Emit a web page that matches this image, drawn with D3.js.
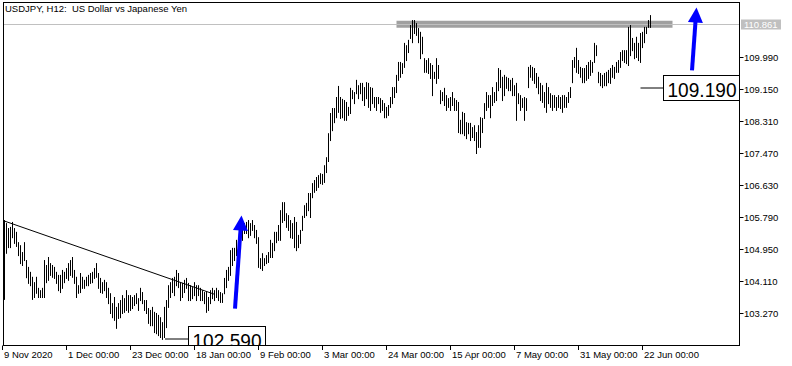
<!DOCTYPE html>
<html><head><meta charset="utf-8">
<script src="https://cdn.jsdelivr.net/npm/d3@7"></script>
<style>
body{margin:0;background:#fff}
svg{display:block}
text{font-family:"Liberation Sans",Arial,sans-serif;white-space:pre}
</style>
</head><body>
<svg id="c" width="792" height="366"></svg>
<script>
const title = "USDJPY, H12:  US Dollar vs Japanese Yen";
const highs = [
105.71,105.63,105.50,105.53,105.66,105.50,105.40,105.13,105.05,104.87,
105.13,104.66,104.48,104.35,104.22,104.08,104.22,103.93,103.87,103.93,
104.66,104.53,104.74,104.58,104.53,104.48,104.35,104.27,104.27,104.40,
104.35,104.45,104.58,104.66,104.74,104.40,104.22,104.00,104.32,104.22,
104.14,104.22,104.27,104.32,104.35,104.45,104.58,104.32,104.19,104.08,
104.14,104.08,103.93,103.79,103.53,103.69,103.43,103.53,103.61,103.74,
103.66,103.87,103.74,
103.74,103.69,103.74,103.79,103.66,103.93,103.82,
103.61,103.61,103.40,103.35,103.43,103.30,103.27,103.22,103.16,103.03,
103.43,103.61,104.00,104.08,104.19,104.22,104.40,104.32,104.08,104.06,
104.14,104.19,104.06,104.00,103.95,104.08,104.00,104.00,103.93,103.87,
103.82,103.82,103.69,103.87,103.93,103.87,103.93,103.87,103.82,103.79,
104.19,104.40,104.48,104.92,104.98,104.98,105.19,105.26,105.50,105.58,
105.63,105.66,105.71,105.63,105.71,105.58,105.45,105.26,
104.71,104.84,104.71,104.79,104.87,105.19,105.11,105.40,105.40,105.58,105.97,106.18,
106.18,105.89,105.84,105.71,105.63,105.79,105.66,105.32,105.45,105.82,106.10,106.16,
106.42,106.42,106.68,106.76,106.84,106.89,106.94,106.92,
107.15,107.36,107.99,108.52,108.65,108.65,108.94,109.23,108.94,108.89,
108.86,108.81,108.68,109.18,109.12,109.07,109.39,109.25,109.31,109.31,
109.20,109.33,109.31,109.20,109.18,108.94,108.94,108.94,108.91,108.86,
108.78,108.68,108.73,108.94,109.20,109.20,109.52,109.86,109.86,109.83,
110.36,110.30,110.44,110.83,110.96,110.96,110.88,110.75,110.65,110.52,
109.96,109.91,109.96,109.83,109.78,109.60,109.96,109.78,109.12,109.07,
109.18,108.99,108.91,108.94,109.07,108.91,108.86,108.81,108.34,108.55,
108.52,108.28,108.26,108.26,108.15,108.20,108.02,108.20,108.41,108.39,
108.78,109.07,108.99,108.99,109.20,109.07,109.33,109.70,109.65,109.47,
109.52,109.47,109.44,109.39,109.44,109.25,109.31,109.04,108.99,108.91,
108.94,108.91,109.73,109.78,109.73,109.70,109.57,109.47,109.31,109.25,
109.07,109.31,109.20,109.04,108.99,108.99,108.94,108.99,108.94,108.99,
108.99,108.94,109.07,109.20,109.91,109.99,110.23,109.91,109.73,109.70,
109.70,109.78,109.86,109.91,109.86,110.36,110.30,109.60,109.57,109.52,
109.57,109.60,109.65,109.70,109.78,109.73,109.86,109.91,110.12,110.17,
110.17,110.17,110.78,110.83,110.49,110.36,110.52,110.36,110.62,110.65,
110.78,110.78,110.96,111.09
];
const lows = [
103.64,104.85,105.00,105.00,105.26,105.11,105.03,104.79,104.58,104.53,
104.66,104.21,104.06,104.00,103.64,103.69,103.80,103.69,103.69,103.69,
103.69,104.08,104.14,104.27,104.22,104.19,104.06,103.87,103.82,103.93,
104.08,104.19,104.14,104.27,104.22,104.06,103.69,103.80,103.82,103.93,
103.93,104.00,104.00,104.06,104.08,104.19,104.22,103.93,103.82,103.80,
103.87,103.69,103.53,103.27,103.16,103.09,102.88,103.14,103.16,103.27,
103.30,103.35,103.30,
103.35,103.40,103.48,103.53,103.35,103.61,103.53,
103.35,103.27,103.01,102.95,102.95,102.77,102.74,102.69,102.64,102.59,
102.64,102.90,103.43,103.69,103.82,103.74,104.00,103.95,103.61,103.69,
103.82,103.93,103.61,103.61,103.66,103.74,103.61,103.74,103.61,103.61,
103.53,103.30,103.35,103.53,103.66,103.61,103.69,103.61,103.56,103.56,
103.79,103.95,104.14,104.27,104.53,104.66,104.79,104.92,105.00,105.19,
105.37,105.37,105.26,105.32,105.45,105.26,105.11,104.48,
104.45,104.40,104.53,104.58,104.61,104.74,104.74,104.92,105.13,105.19,105.19,105.66,
105.71,105.53,105.45,105.26,105.24,105.00,104.92,105.00,105.11,105.45,105.79,105.84,
105.97,105.79,106.31,106.45,106.50,106.58,106.68,106.66,
106.71,106.97,107.26,107.81,108.07,108.28,108.41,108.55,108.39,108.41,
108.34,108.34,108.47,108.52,108.91,108.78,109.04,108.91,109.04,108.86,
108.73,108.91,108.68,108.60,108.78,108.68,108.60,108.78,108.55,108.60,
108.41,108.41,108.47,108.68,108.78,108.94,109.07,109.39,109.47,109.57,
109.73,109.91,110.12,110.49,110.38,110.62,110.57,110.38,109.96,110.09,
109.60,109.60,109.57,109.44,108.99,109.44,109.31,109.44,108.78,108.86,
108.73,108.60,108.68,108.60,108.73,108.60,108.60,108.02,107.99,107.99,
107.94,107.86,107.99,107.81,107.89,107.81,107.47,107.63,107.63,108.02,
108.39,108.60,108.68,108.41,108.73,108.81,108.86,109.12,109.20,108.86,
108.99,109.18,109.12,109.12,108.99,108.99,108.34,108.78,108.60,108.68,
108.34,108.60,109.20,109.47,109.39,109.31,109.20,109.04,108.86,108.81,
108.68,108.55,108.78,108.68,108.60,108.68,108.60,108.68,108.65,108.55,
108.68,108.68,108.81,108.94,109.33,109.73,109.60,109.57,109.47,109.33,
109.33,109.39,109.44,109.52,109.60,109.86,110.04,109.33,109.25,109.20,
109.25,109.25,109.33,109.31,109.47,109.44,109.60,109.60,109.73,109.91,
109.86,109.83,109.78,110.04,110.17,109.96,109.99,109.91,109.86,110.25,
110.38,110.62,110.78,110.78
];
const priceTicks = [109.990,109.150,108.310,107.470,106.630,105.790,104.950,104.110,103.270];
const timeLabels = ["9 Nov 2020","1 Dec 00:00","23 Dec 00:00","18 Jan 00:00","9 Feb 00:00","3 Mar 00:00","24 Mar 00:00","15 Apr 00:00","7 May 00:00","31 May 00:00","22 Jun 00:00"];
const timeTickBars = [-1,31,63,95,127,159,191,223,255,287,319];
const currentPrice = 110.861;
const resistanceZone = [196, 334];
const trendStart = [-0.75, 105.71];
const trendEnd = [105.25, 103.77];
const arrowTails = [[115.25,103.40],[343.75,109.65]];
const arrowTips = [[118.5,105.84],[346,111.30]];
const labelTexts = ["102.590","109.190"];
const labelPrices = [102.59,109.19];
const labelFrom = [80.25,318];
const labelTo = [91.75,329];

const svg = d3.select("#c");
const L=3, R=739, T=2, B=345;
const x = d3.scaleLinear().domain([0,1]).range([4.5,6.5]);
const y = d3.scaleLinear().domain([103.27,109.99]).range([313.5,57.5]);

svg.append("defs").append("clipPath").attr("id","plot")
  .append("rect").attr("x",L+0.5).attr("y",T+0.5).attr("width",R-L-0.5).attr("height",B-T-0.5);

const g = svg.append("g").attr("clip-path","url(#plot)");

// resistance zone
g.append("line").attr("x1",x(resistanceZone[0])).attr("x2",x(resistanceZone[1]))
  .attr("y1",y(currentPrice)).attr("y2",y(currentPrice))
  .attr("stroke","#a0a0a0").attr("stroke-width",7);
// current price line
const cpY = Math.round(y(currentPrice)-0.5)+0.5;
g.append("line").attr("x1",L).attr("x2",R).attr("y1",cpY).attr("y2",cpY)
  .attr("stroke","#c0c0c0").attr("stroke-width",1);

// bars
g.append("g").selectAll("line").data(highs).join("line")
  .attr("x1",(d,i)=>x(i)).attr("x2",(d,i)=>x(i))
  .attr("y1",d=>y(d)-0.5).attr("y2",(d,i)=>y(lows[i])+0.5)
  .attr("stroke","#000").attr("stroke-width",1);

// trendline
g.append("line").attr("x1",x(trendStart[0])).attr("y1",y(trendStart[1]))
  .attr("x2",x(trendEnd[0])).attr("y2",y(trendEnd[1]))
  .attr("stroke","#000").attr("stroke-width",1);

// arrows
arrowTails.forEach((t,k)=>{
  const tip = arrowTips[k];
  const x0=x(t[0]), y0=y(t[1]), x1=x(tip[0]), y1=y(tip[1]);
  const dx=x1-x0, dy=y1-y0, len=Math.hypot(dx,dy), ux=dx/len, uy=dy/len;
  const hl=15, hw=7.5;
  const bx=x1-ux*hl, by=y1-uy*hl;
  g.append("line").attr("x1",x0).attr("y1",y0).attr("x2",bx+ux*1).attr("y2",by+uy*1)
    .attr("stroke","#0000ff").attr("stroke-width",4);
  g.append("path").attr("d",`M${x1},${y1}L${bx-uy*hw},${by+ux*hw}L${bx+uy*hw},${by-ux*hw}Z`)
    .attr("fill","#0000ff");
});

// price labels
labelTexts.forEach((t,k)=>{
  const py = Math.round(y(labelPrices[k]))-0.5+0.5;
  const xa = x(labelFrom[k]), xb = Math.round(x(labelTo[k]))+0.5;
  g.append("line").attr("x1",xa).attr("x2",xb).attr("y1",py).attr("y2",py).attr("stroke","#000");
  g.append("rect").attr("x",xb).attr("y",py-12.5).attr("width",77).attr("height",25)
    .attr("fill","#fff").attr("stroke","#000");
  g.append("text").attr("x",xb+4).attr("y",py+8.5).text(t)
    .attr("font-size",20).attr("textLength",69).attr("lengthAdjust","spacingAndGlyphs").attr("fill","#000");
});

// frame
svg.append("rect").attr("x",L+0.5).attr("y",T+0.5).attr("width",R-L).attr("height",B-T)
  .attr("fill","none").attr("stroke","#000");

// title
svg.append("text").attr("x",5).attr("y",12).attr("font-size",9.5).attr("fill","#000")
  .attr("xml:space","preserve").text(title);

// y axis
const ya = svg.append("g");
priceTicks.forEach(p=>{
  const ty = Math.round(y(p)-0.5)+0.5;
  ya.append("line").attr("x1",R+0.5).attr("x2",R+4.5).attr("y1",ty).attr("y2",ty).attr("stroke","#000");
  ya.append("text").attr("x",R+5).attr("y",ty+3.5).attr("font-size",9.5).attr("fill","#000").text(d3.format(".3f")(p));
});
// current price label
ya.append("rect").attr("x",R+2).attr("y",cpY-5).attr("width",40).attr("height",10).attr("fill","#c0c0c0");
ya.append("text").attr("x",R+5).attr("y",cpY+3.5).attr("font-size",9.5).attr("fill","#fff").text(d3.format(".3f")(currentPrice));

// x axis
const xa = svg.append("g");
timeTickBars.forEach((b,k)=>{
  const tx = Math.round(x(b)-0.5)+0.5;
  xa.append("line").attr("x1",tx).attr("x2",tx).attr("y1",B+0.5).attr("y2",B+5).attr("stroke","#000");
  xa.append("text").attr("x",tx+1.5).attr("y",B+12.5).attr("font-size",9.5).attr("fill","#000").text(timeLabels[k]);
});
</script>
</body></html>
